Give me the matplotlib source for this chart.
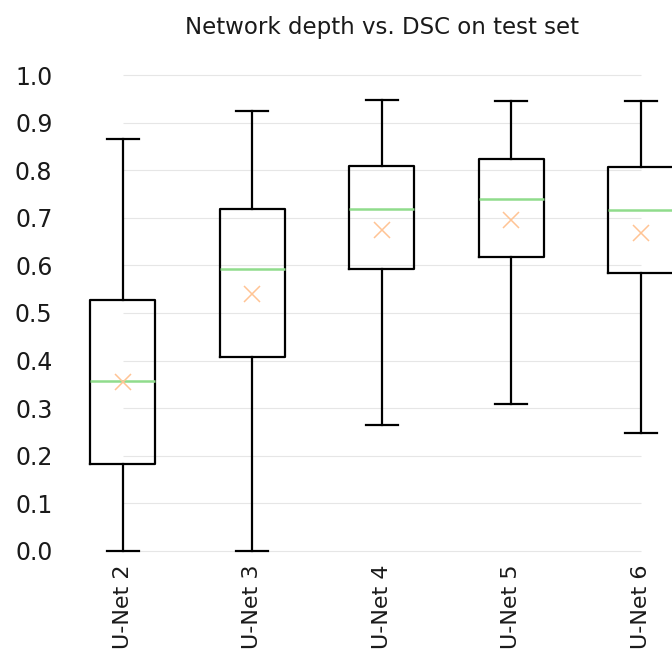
import matplotlib
matplotlib.use('Agg')
import matplotlib.pyplot as plt

labels = ['U-Net 2', 'U-Net 3', 'U-Net 4', 'U-Net 5', 'U-Net 6']
whislo = [0.0, 0.0, 0.265, 0.309, 0.248]
q1 = [0.183, 0.408, 0.592, 0.618, 0.584]
med = [0.357, 0.593, 0.718, 0.740, 0.717]
q3 = [0.527, 0.719, 0.809, 0.823, 0.807]
whishi = [0.866, 0.924, 0.947, 0.946, 0.946]
mean = [0.355, 0.540, 0.674, 0.695, 0.669]
yticks = [0.0, 0.1, 0.2, 0.3, 0.4, 0.5, 0.6, 0.7, 0.8, 0.9, 1.0]

stats = []
for i in range(len(labels)):
	stats.append({'label': labels[i], 'whislo': whislo[i], 'q1': q1[i], 'med': med[i],
		'q3': q3[i], 'whishi': whishi[i], 'mean': mean[i], 'fliers': []})

W, H = 672, 651
fig = plt.figure(figsize=(W/100, H/100), dpi=100)
# axes placed in pixels; right part of the last box falls off the figure like the reference
ax = fig.add_axes([58/W, 90.5/H, 647.5/W, 495/H])

ax.bxp(stats, showmeans=True, widths=0.5,
	boxprops=dict(color='black', linewidth=1.6),
	whiskerprops=dict(color='black', linewidth=1.6),
	capprops=dict(color='black', linewidth=1.6),
	medianprops=dict(color='#90dc8c', linewidth=1.8),
	meanprops=dict(marker='x', markeredgecolor='#ffc494', markerfacecolor='none',
		markersize=12, markeredgewidth=1.1))

ax.hlines(yticks, 1, 5, color='#e6e6e6', linewidth=0.8, zorder=0)
ax.set_xlim(0.5, 5.5)
ax.set_ylim(-0.02, 1.02)
ax.set_yticks(yticks)
ax.set_yticklabels(['%.1f' % t for t in yticks])
for s in ax.spines.values():
	s.set_visible(False)
ax.tick_params(axis='y', length=0, labelsize=17, pad=4, labelcolor='#1a1a1a')
ax.tick_params(axis='x', length=0, labelsize=16, pad=3, labelcolor='#1a1a1a')
plt.setp(ax.get_xticklabels(), rotation=90)
ax.set_title('Network depth vs. DSC on test set', fontsize=16.5, pad=23, color='#1a1a1a')

fig.savefig('out.png', dpi=100)
